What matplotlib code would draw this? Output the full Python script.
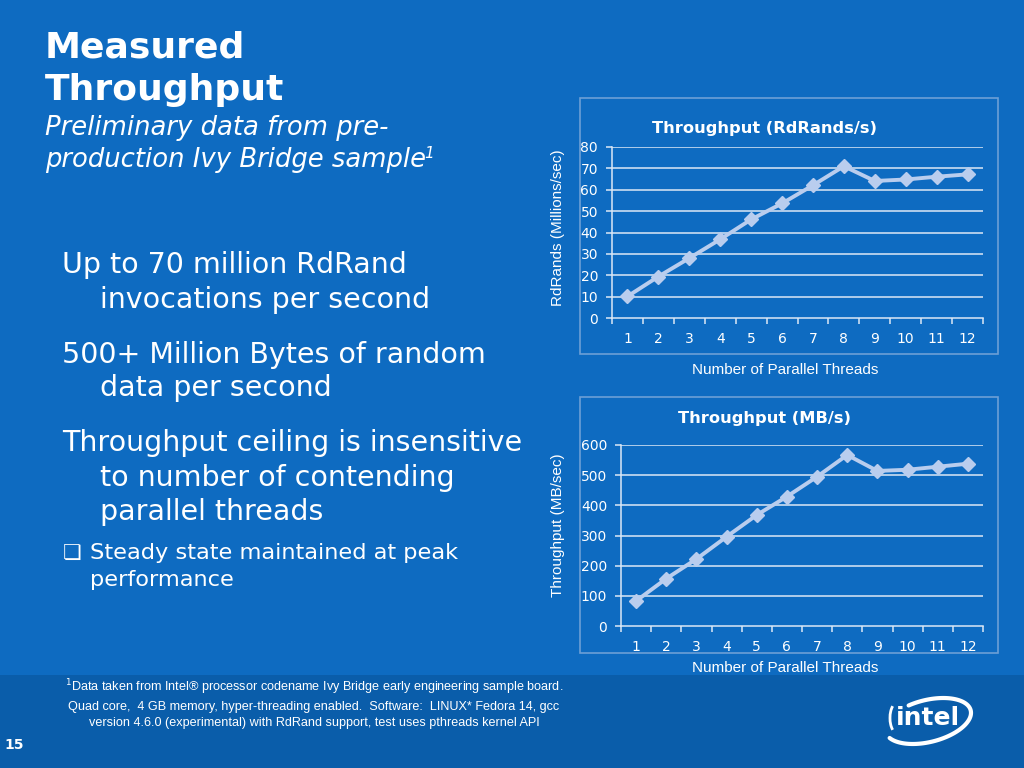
import matplotlib
matplotlib.use("Agg")
import numpy as np
import matplotlib.pyplot as plt
from matplotlib.patches import Rectangle, Arc

# data
threads = [1, 2, 3, 4, 5, 6, 7, 8, 9, 10, 11, 12]
rdrands = [10.1, 19.4, 28.0, 36.8, 46.1, 53.6, 62.1, 71.0, 64.1, 64.8, 66.1, 67.2]
mbytes = [83, 157, 222, 296, 368, 429, 495, 567, 514, 518, 528, 538]

rd_ticks = [0, 10, 20, 30, 40, 50, 60, 70, 80]
mb_ticks = [0, 100, 200, 300, 400, 500, 600]

footnote = ("$^{1}$Data taken from Intel\u00ae processor codename Ivy Bridge early engineering sample board.\n"
            "Quad core,  4 GB memory, hyper-threading enabled.  Software:  LINUX* Fedora 14, gcc\n"
            "version 4.6.0 (experimental) with RdRand support, test uses pthreads kernel API")

BG = "#0E6BC1"
BAND = "#0A5DAA"
LINE = "#B9CDEE"
FRAME = "#6C9FD6"
GRID = "#DCE8F6"
TXT = "#FFFFFF"
W, H = 1024.0, 768.0

fig = plt.figure(figsize=(10.24, 7.68), dpi=100, facecolor=BG)


def px(x, y):
    # pixel (from top-left) -> figure fraction
    return x / W, 1 - y / H


def frac_box(x0, y0, x1, y1):
    return [x0 / W, 1 - y1 / H, (x1 - x0) / W, (y1 - y0) / H]


# bottom darker band
fig.patches.append(Rectangle((0, 0), 1, 1 - 675 / H, transform=fig.transFigure,
                             facecolor=BAND, edgecolor="none", zorder=-5))

# chart frames
for y0, y1 in [(98, 354), (397, 653)]:
    x0, yb = px(580, y1)
    fig.patches.append(Rectangle((x0, yb), (998 - 580) / W, (y1 - y0) / H,
                                 transform=fig.transFigure, facecolor="none",
                                 edgecolor=FRAME, lw=1.2, zorder=-1))

# slide text
fig.text(*px(45, 47), "Measured", color=TXT, fontsize=26, fontweight="bold",
         family="DejaVu Sans", va="center", ha="left")
fig.text(*px(45, 90), "Throughput", color=TXT, fontsize=26, fontweight="bold",
         family="DejaVu Sans", va="center", ha="left")
fig.text(*px(45, 128), "Preliminary data from pre-", color=TXT, fontsize=18.6,
         style="italic", family="DejaVu Sans", va="center", ha="left")
fig.text(*px(45, 160), "production Ivy Bridge sample", color=TXT, fontsize=18.6,
         style="italic", family="DejaVu Sans", va="center", ha="left")
fig.text(*px(424, 154), "1", color=TXT, fontsize=11, style="italic",
         family="DejaVu Sans", va="center", ha="left")

bullets = [
    (62, 265, "Up to 70 million RdRand"),
    (100, 300, "invocations per second"),
    (62, 355, "500+ Million Bytes of random"),
    (100, 388, "data per second"),
    (62, 443, "Throughput ceiling is insensitive"),
    (100, 478, "to number of contending"),
    (100, 512, "parallel threads"),
]
for x, y, s in bullets:
    fig.text(*px(x, y), s, color=TXT, fontsize=20.5, family="DejaVu Sans",
             va="center", ha="left")

fig.text(*px(63, 553), "\u274f", color=TXT, fontsize=15, family="DejaVu Sans",
         va="center", ha="left")
fig.text(*px(90, 553), "Steady state maintained at peak", color=TXT, fontsize=16.2,
         family="DejaVu Sans", va="center", ha="left")
fig.text(*px(90, 580), "performance", color=TXT, fontsize=16.2,
         family="DejaVu Sans", va="center", ha="left")

fig.text(*px(314, 703), footnote, color=TXT, fontsize=9.1,
         family=["Liberation Sans Narrow", "Liberation Sans", "DejaVu Sans"],
         va="center", ha="center", linespacing=1.45)
fig.text(*px(4, 745), "15", color=TXT, fontsize=10, fontweight="bold",
         family="DejaVu Sans", va="center", ha="left")


def draw_chart(box, values, yticks, ctitle, ylabel, title_y, ylabel_y, xlabel_y):
    ax = fig.add_axes(frac_box(*box))
    ax.set_facecolor("none")
    ax.plot(threads, values, color=LINE, lw=2.8, marker="D", markersize=7,
            markerfacecolor=LINE, markeredgecolor=LINE, zorder=3, clip_on=False)
    ax.set_xlim(0.5, 12.5)
    ax.set_ylim(yticks[0], yticks[-1])
    ax.set_yticks(yticks)
    ax.set_xticks(threads)
    ax.set_xticks([t + 0.5 for t in range(0, 13)], minor=True)
    for y in yticks[1:]:
        ax.axhline(y, color=GRID, lw=1.1, zorder=1)
    for side in ["top", "right"]:
        ax.spines[side].set_visible(False)
    for side in ["left", "bottom"]:
        ax.spines[side].set_color(GRID)
        ax.spines[side].set_linewidth(1.1)
    ax.tick_params(axis="y", colors=GRID, labelcolor=TXT, length=4, width=1.1,
                   pad=6, labelsize=10)
    ax.tick_params(axis="x", which="major", length=0, pad=10, labelcolor=TXT,
                   labelsize=10)
    ax.tick_params(axis="x", which="minor", length=4, width=1.1, colors=GRID)
    for lab in ax.get_xticklabels() + ax.get_yticklabels():
        lab.set_family("DejaVu Sans")
    fig.text(*px(764, title_y), ctitle, color=TXT, fontsize=11.7, fontweight="bold",
             family="DejaVu Sans", ha="center", va="center")
    fig.text(*px(558, ylabel_y), ylabel, color=TXT, fontsize=11, rotation=90,
             family="Liberation Sans", ha="center", va="center")
    fig.text(*px(785, xlabel_y), "Number of Parallel Threads", color=TXT,
             fontsize=11, family="Liberation Sans", ha="center", va="center")
    return ax


draw_chart((612, 147, 983, 318), rdrands, rd_ticks, "Throughput (RdRands/s)",
           "RdRands (Millions/sec)", 128, 228, 370)
draw_chart((621, 445, 983, 626), mbytes, mb_ticks, "Throughput (MB/s)",
           "Throughput (MB/sec)", 418, 525, 668)

# intel logo, roughly: open swoosh around the word
lax = fig.add_axes(frac_box(870, 685, 980, 755))
lax.set_xlim(-55, 55)
lax.set_ylim(-35, 35)
lax.axis("off")
t = np.radians(np.linspace(200, 470, 120))
ex, ey = 44 * np.cos(t), 21 * np.sin(t)
rot = np.radians(14)
lax.plot(3 + ex * np.cos(rot) - ey * np.sin(rot), -1 + ex * np.sin(rot) + ey * np.cos(rot),
         color=TXT, lw=3, solid_capstyle="round", clip_on=False)
lax.add_patch(Arc((-28, 2), 14, 30, angle=0, theta1=110, theta2=250, color=TXT,
                  lw=2, clip_on=False))
lax.text(3, 2, "intel", color=TXT, fontsize=18, fontweight="bold",
         family="DejaVu Sans", ha="center", va="center")

fig.savefig("out.png", dpi=100, facecolor=BG)
